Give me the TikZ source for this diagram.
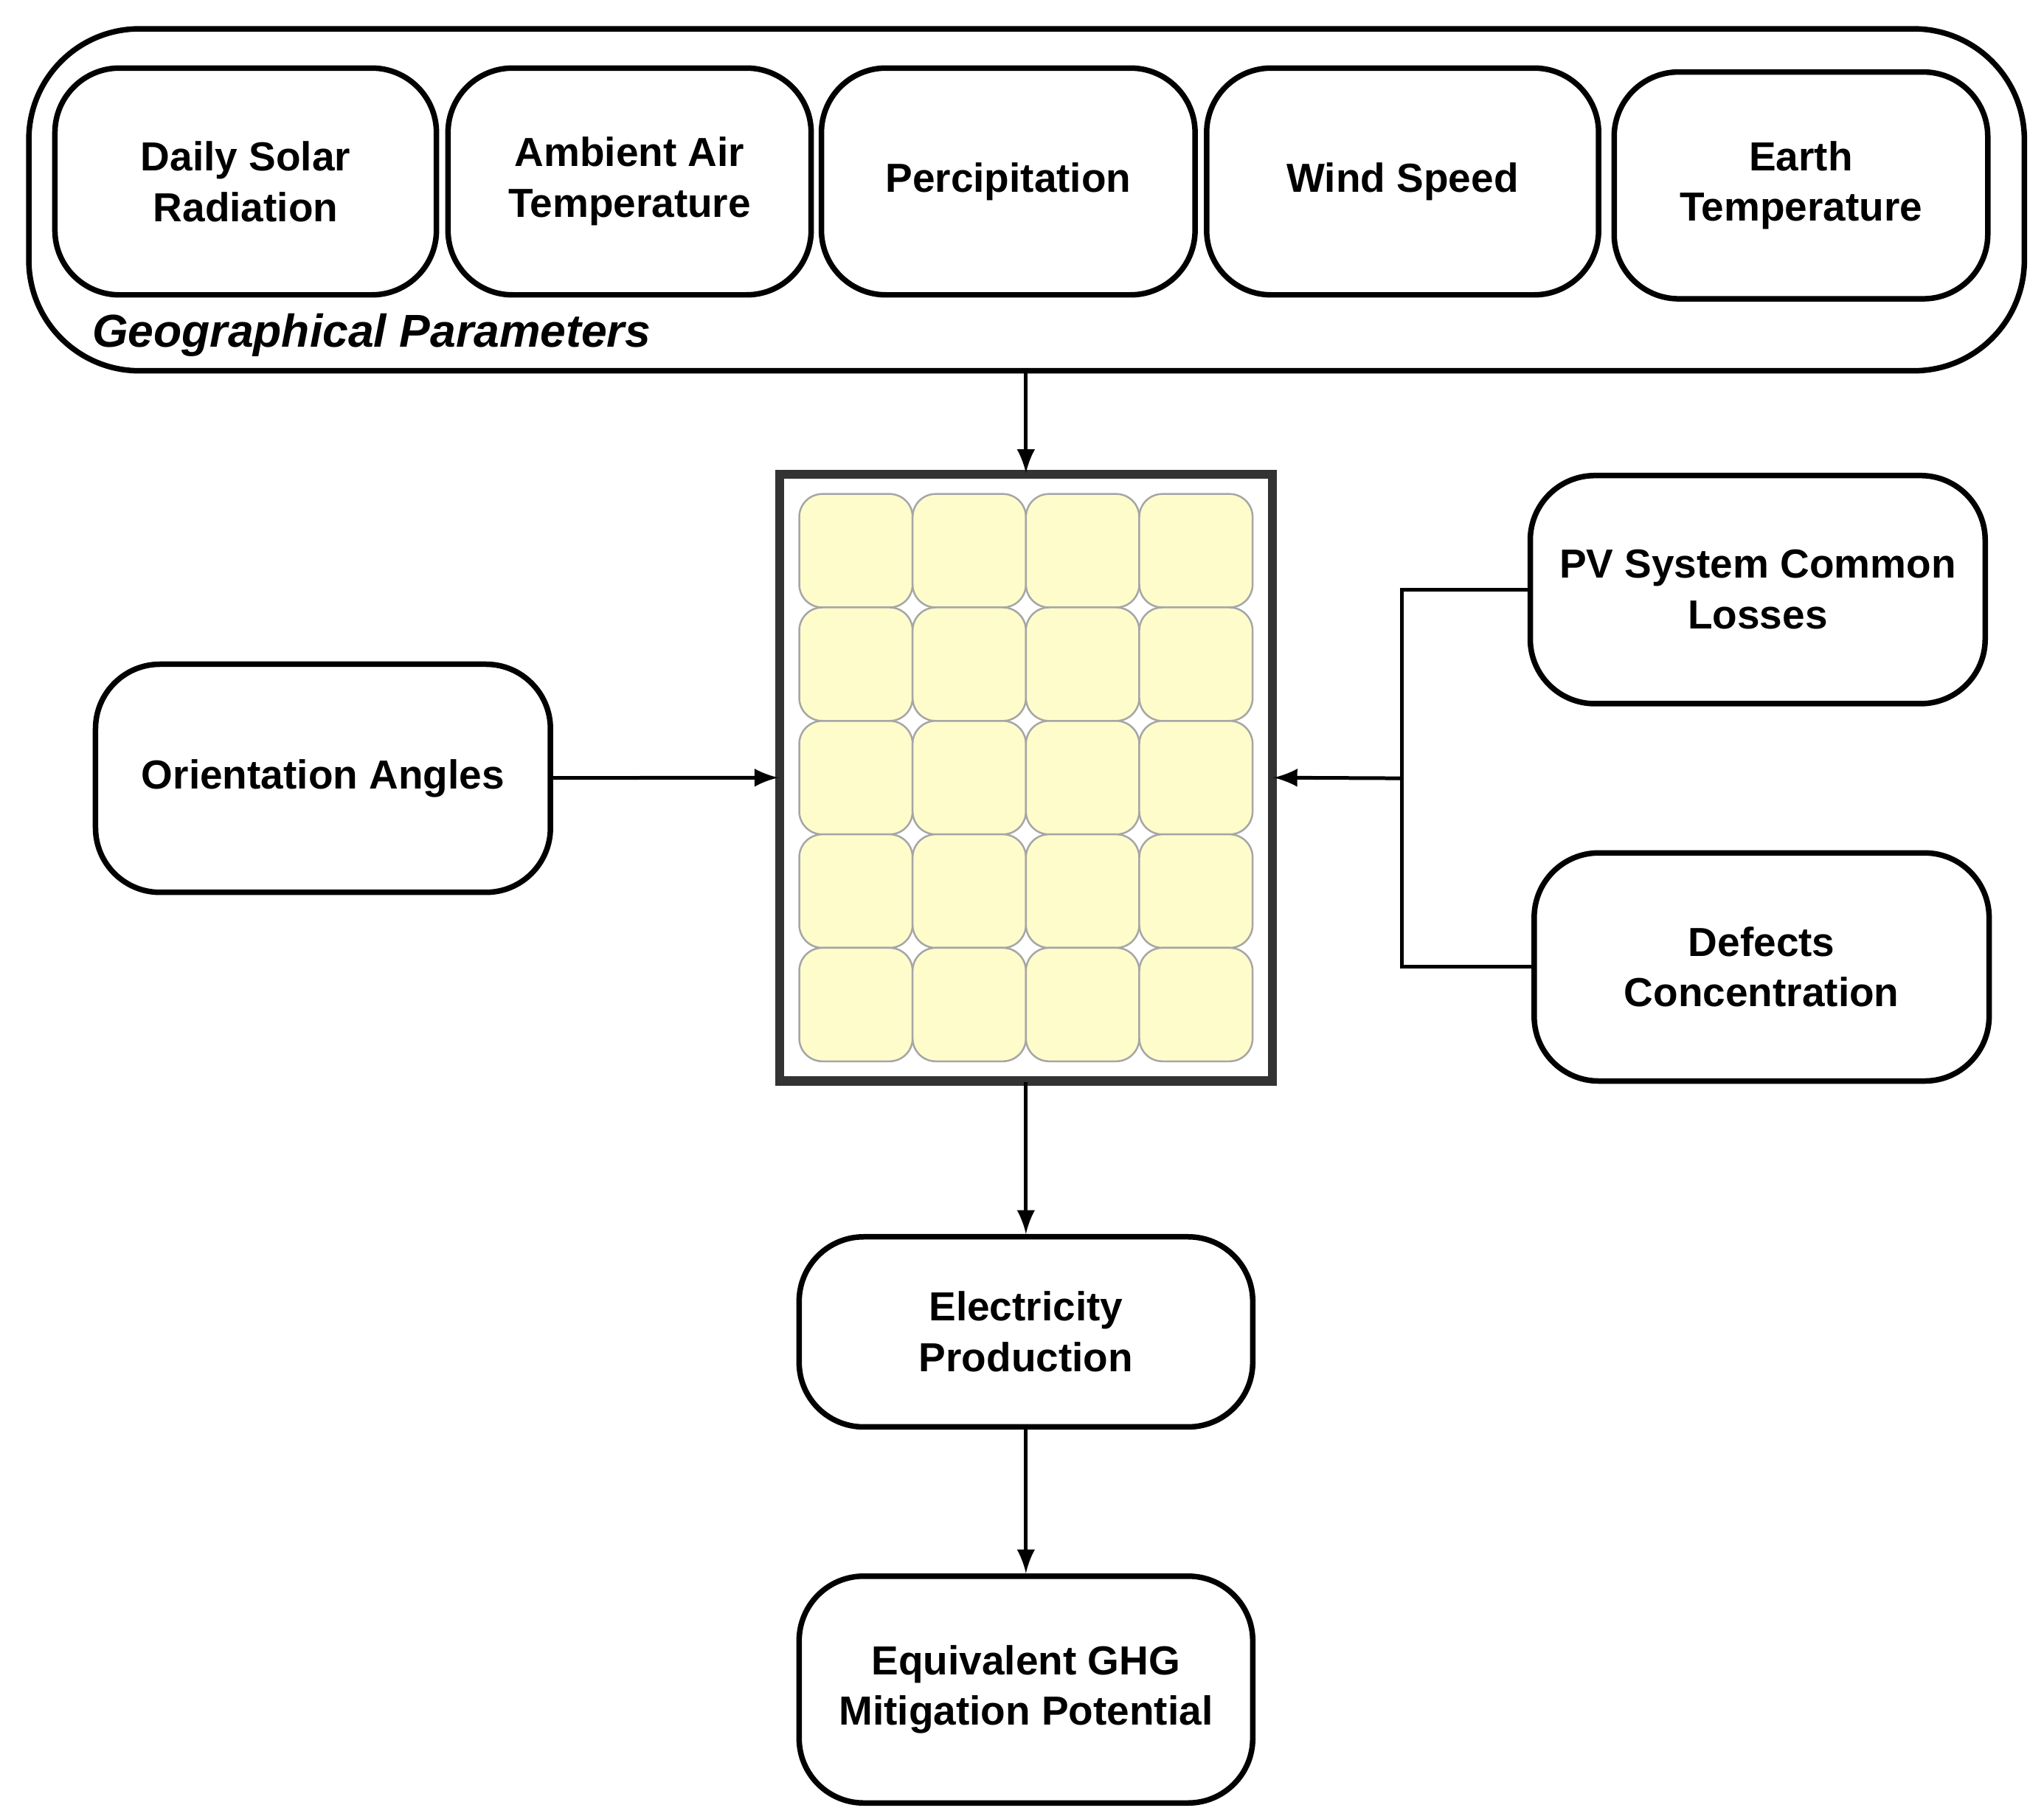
\documentclass[tikz,border=0pt]{standalone}
\usepackage{fontspec}
\setmainfont{Liberation Sans}
\usetikzlibrary{arrows.meta,positioning,calc}
\tikzstyle{box} = [draw,very thick,rounded corners=14pt,align=center,font=\bfseries\fontsize{8.8}{11}\selectfont,inner sep=0pt]
\tikzstyle{cell} = [draw=gray!70,fill=yellow!20,rounded corners=5pt,thin]
\tikzset{>=latex}
\begin{document}
\begin{tikzpicture}[x=0.01cm,y=-0.01cm]
    \useasboundingbox (0,0) rectangle (1560,1388);
    % geographical parameters
    \draw [very thick,rounded corners=24pt] (22,22) rectangle (1545,283);
    \node [anchor=west,font=\bfseries\itshape\fontsize{10}{12}\selectfont] at (58,256) {Geographical Parameters};
    \coordinate (geo) at (783,283);
    \node [box,minimum width=2.91cm,minimum height=1.73cm] (rad) at (187.5,138.5) {Daily Solar\\Radiation};
    \node [box,minimum width=2.77cm,minimum height=1.73cm] (air) at (480.5,138.5) {Ambient Air\\Temperature};
    \node [box,minimum width=2.85cm,minimum height=1.73cm] (rain) at (769.5,138.5) {Percipitation};
    \node [box,minimum width=2.99cm,minimum height=1.73cm] (wind) at (1070.5,138.5) {Wind Speed};
    \node [box,minimum width=2.85cm,minimum height=1.73cm] (earth) at (1374.5,141.5) {Earth\\Temperature};
    % pv panel
    \draw [line width=2pt,gray!40!black] (595,362) rectangle (971,825);
    \foreach \i in {0,...,3}
      \foreach \j in {0,...,4}
        \draw [cell] ({610+\i*86.5},{377+\j*86.6}) rectangle ++(86.5,86.6);
    \node [minimum width=3.76cm,minimum height=4.63cm,inner sep=0pt] (panel) at (783,593.5) {};
    % other boxes
    \node [box,minimum width=3.47cm,minimum height=1.74cm] (orient) at (246.5,594) {Orientation Angles};
    \node [box,minimum width=3.47cm,minimum height=1.74cm] (loss) at (1341.5,450) {PV System Common\\Losses};
    \node [box,minimum width=3.47cm,minimum height=1.74cm] (defect) at (1344.5,738) {Defects\\Concentration};
    \node [box,minimum width=3.46cm,minimum height=1.45cm] (elec) at (783,1016.5) {Electricity\\Production};
    \node [box,minimum width=3.46cm,minimum height=1.73cm] (ghg) at (783,1289.5) {Equivalent GHG\\Mitigation Potential};
    % connectors
    \coordinate (join) at (1070,594);
    \draw [thick,->] (geo) -- (panel.north);
    \draw [thick,->] (orient) -- (panel.west);
    \draw [thick] (loss.west) -| (join) |- (defect.west);
    \draw [thick,->] (join) -- (panel.east);
    \draw [thick,->] (panel.south) -- (elec.north);
    \draw [thick,->] (elec.south) -- (ghg.north);
\end{tikzpicture}
\end{document}
